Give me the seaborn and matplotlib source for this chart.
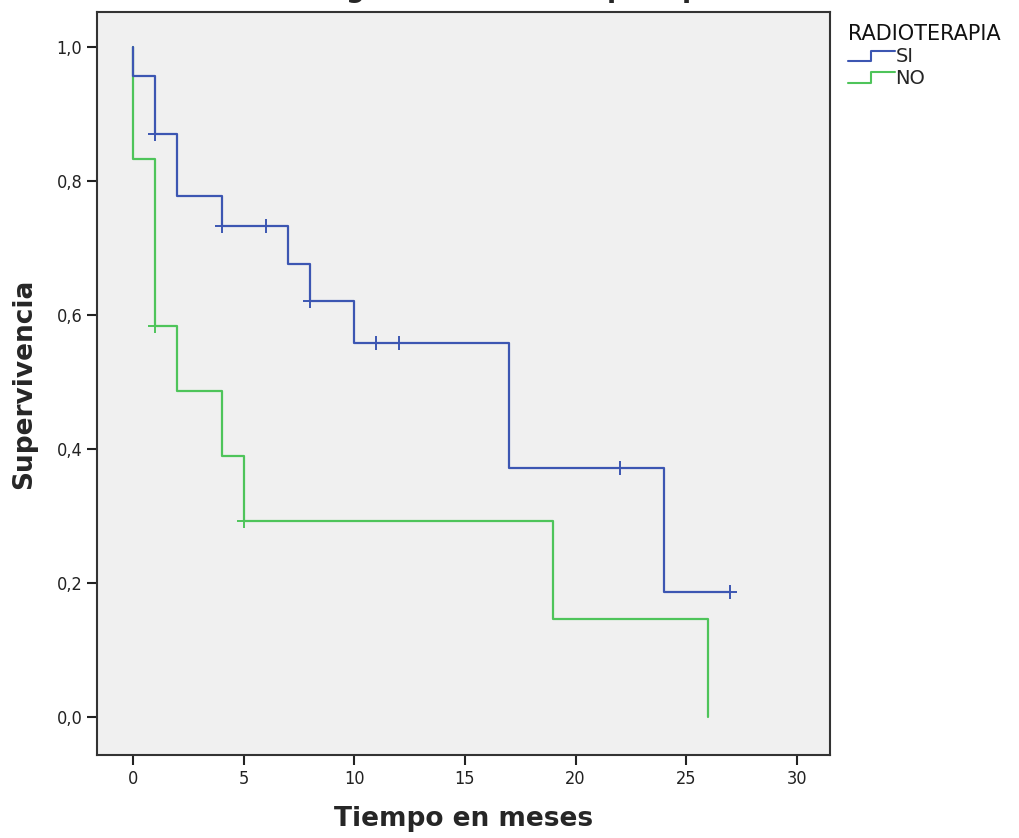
import numpy as np
import pandas as pd
import matplotlib
matplotlib.use("Agg")
import matplotlib.pyplot as plt
import seaborn as sns
from matplotlib.lines import Line2D
from matplotlib.legend_handler import HandlerBase

# Curvas de Kaplan-Meier
grupos = ["SI", "NO"]
tiempo_si = [0, 0, 1, 2, 4, 7, 8, 10, 17, 24, 27]
surv_si = [1.0, 0.957, 0.870, 0.778, 0.732, 0.676, 0.620, 0.558, 0.372, 0.186, 0.186]
cens_t_si = [1, 4, 6, 8, 11, 12, 22, 27]
cens_s_si = [0.870, 0.732, 0.732, 0.620, 0.558, 0.558, 0.372, 0.186]

tiempo_no = [0, 0, 1, 2, 4, 5, 19, 26]
surv_no = [1.0, 0.833, 0.583, 0.486, 0.389, 0.292, 0.146, 0.0]
cens_t_no = [1, 5]
cens_s_no = [0.583, 0.292]

colores = {"SI": "#3c56b2", "NO": "#4ec45a"}

df = pd.concat([
    pd.DataFrame({"t": tiempo_si, "s": surv_si, "RADIOTERAPIA": "SI"}),
    pd.DataFrame({"t": tiempo_no, "s": surv_no, "RADIOTERAPIA": "NO"}),
], ignore_index=True)
cens = pd.concat([
    pd.DataFrame({"t": cens_t_si, "s": cens_s_si, "RADIOTERAPIA": "SI"}),
    pd.DataFrame({"t": cens_t_no, "s": cens_s_no, "RADIOTERAPIA": "NO"}),
], ignore_index=True)

sns.set_style("white")
plt.rcParams["font.family"] = ["DejaVu Sans"]

fig = plt.figure(figsize=(10.19, 8.38), dpi=100)
ax = fig.add_axes([0.0952, 0.099, 0.7193, 0.8866])
ax.set_facecolor("#f0f0f0")

# dibujar NO primero para que SI quede encima
for g in ["NO", "SI"]:
    sub = df[df["RADIOTERAPIA"] == g]
    sns.lineplot(data=sub, x="t", y="s", color=colores[g], estimator=None,
                 sort=False, drawstyle="steps-post", linewidth=1.6, ax=ax,
                 legend=False)
    c = cens[cens["RADIOTERAPIA"] == g]
    sns.scatterplot(data=c, x="t", y="s", color=colores[g], marker="+",
                    s=110, linewidth=1.4, ax=ax, legend=False, zorder=3)

ax.set_xlim(-1.63, 31.5)
ax.set_ylim(-0.057, 1.052)
ax.set_xticks([0, 5, 10, 15, 20, 25, 30])
ax.set_yticks([0.0, 0.2, 0.4, 0.6, 0.8, 1.0])
ax.set_yticklabels(["0,0", "0,2", "0,4", "0,6", "0,8", "1,0"])
ax.tick_params(axis="both", direction="out", length=7, width=1.5,
               labelsize=13, colors="#222222", left=True, bottom=True)
for lab in ax.get_xticklabels() + ax.get_yticklabels():
    lab.set_fontstretch("condensed")
for sp in ax.spines.values():
    sp.set_color("#333333")
    sp.set_linewidth(1.5)

ax.set_xlabel("Tiempo en meses", fontsize=19, fontweight="bold", labelpad=13)
ax.set_ylabel("Supervivencia", fontsize=19, fontweight="bold", labelpad=14)

# titulo cortado arriba, como en la imagen original
fig.text(0.535, 1.012, "Figura 3. Radioterapia - pc-ios", ha="center",
         va="center", fontsize=19, fontweight="bold")


class StepHandler(HandlerBase):
    def create_artists(self, legend, orig_handle, xdescent, ydescent,
                       width, height, fontsize, trans):
        x = np.array([0, 0.5, 0.5, 1.0]) * width - xdescent
        y = np.array([0.05, 0.05, 0.85, 0.85]) * height - ydescent
        ln = Line2D(x, y, color=orig_handle.get_color(), linewidth=1.5,
                    transform=trans)
        return [ln]


handles = [Line2D([], [], color=colores[g]) for g in grupos]
leg = fig.legend(handles, grupos, title="RADIOTERAPIA", loc="upper left",
                 bbox_to_anchor=(0.815, 0.992), frameon=False, fontsize=14,
                 title_fontsize=15, handler_map={Line2D: StepHandler()},
                 handlelength=2.4, handletextpad=0.05, labelspacing=0.15,
                 alignment="left")
leg.get_title().set_color("#111111")

fig.savefig("out.png", dpi=100, facecolor="white")
